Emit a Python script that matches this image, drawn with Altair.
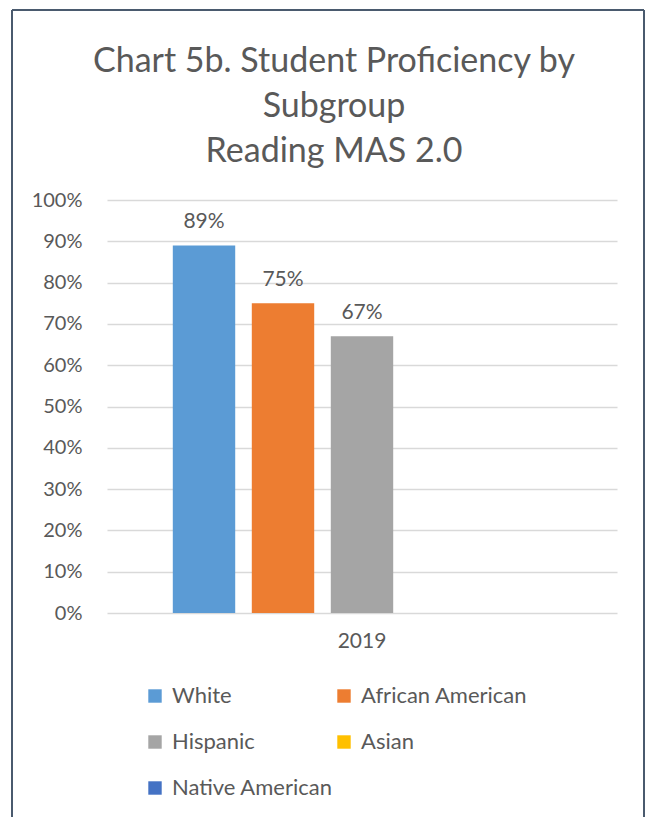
import altair as alt
import pandas as pd

years = ["2019"]
subgroups = ["White", "African American", "Hispanic", "Asian", "Native American"]
values = [0.89, 0.75, 0.67, None, None]
colors = ["#5B9BD5", "#ED7D31", "#A5A5A5", "#FFC000", "#4472C4"]
y_ticks = [0, 0.1, 0.2, 0.3, 0.4, 0.5, 0.6, 0.7, 0.8, 0.9, 1.0]
title_lines = ["Chart 5b. Student Proficiency by", "Subgroup", "Reading MAS 2.0"]

# legend fills column-wise; order it so that rows read as in the reference
legend_order = ["White", "Hispanic", "Native American", "African American", "Asian"]
legend_colors = [colors[subgroups.index(s)] for s in legend_order]

df = pd.DataFrame({
    "Year": years * len(subgroups),
    "Subgroup": subgroups,
    "Value": values,
})

FONT = "Lato"
TXT = "#595959"
W, H = 510, 413

x_enc = alt.X("Year:N", title=None,
              scale=alt.Scale(paddingInner=0, paddingOuter=0.1456),
              axis=alt.Axis(labelAngle=0, labelFontSize=21, labelColor=TXT, labelFont=FONT,
                            domain=False, ticks=False, grid=False, labelPadding=17))
xo_enc = alt.XOffset("Subgroup:N", sort=subgroups,
                     scale=alt.Scale(domain=subgroups, paddingInner=0.21, paddingOuter=0.105))
y_enc = alt.Y("Value:Q", title=None,
              scale=alt.Scale(domain=[0, 1], nice=False),
              axis=alt.Axis(values=y_ticks, format=".0%", labelFontSize=20, labelColor=TXT,
                            labelFont=FONT, domain=False, ticks=False, labelPadding=25,
                            gridColor="#D9D9D9", gridWidth=1.5))

bars = alt.Chart(df).mark_bar().encode(
    x=x_enc,
    xOffset=xo_enc,
    y=y_enc,
    color=alt.Color("Subgroup:N", sort=legend_order,
                    scale=alt.Scale(domain=legend_order, range=legend_colors),
                    legend=alt.Legend(title=None, orient="none", legendX=37, legendY=485,
                                      columns=2, columnPadding=0, rowPadding=24,
                                      symbolType="square", symbolSize=180, symbolStrokeWidth=0,
                                      labelFontSize=22, labelColor=TXT, labelFont=FONT,
                                      labelOffset=6, labelLimit=300)),
)

labels = alt.Chart(df).transform_filter("datum.Value != null").mark_text(
    baseline="alphabetic", dy=-17, fontSize=21, color=TXT, font=FONT
).encode(
    x=alt.X("Year:N"),
    xOffset=alt.XOffset("Subgroup:N", sort=subgroups),
    y=alt.Y("Value:Q"),
    text=alt.Text("Value:Q", format=".0%"),
)

title_marks = []
for i, ln in enumerate(title_lines):
    title_marks.append(
        alt.Chart(alt.Data(values=[{"t": ln}])).mark_text(
            fontSize=34, font=FONT, color=TXT, baseline="alphabetic", align="center"
        ).encode(text="t:N", x=alt.value(227), y=alt.value(-128 + 45 * i))
    )

border_data = alt.Data(values=[{"k": 1}])
BC = "#4A5A6E"
left_b = alt.Chart(border_data).mark_rule(color=BC, strokeWidth=2).encode(
    x=alt.value(-95), y=alt.value(-190), y2=alt.value(630))
top_b = alt.Chart(border_data).mark_rule(color=BC, strokeWidth=2).encode(
    x=alt.value(-95), x2=alt.value(537), y=alt.value(-190))
right_b = alt.Chart(border_data).mark_rule(color=BC, strokeWidth=2).encode(
    x=alt.value(537), y=alt.value(-190), y2=alt.value(630))

chart = alt.layer(bars, labels, *title_marks, left_b, top_b, right_b).properties(
    width=W, height=H,
    background="white",
    autosize=alt.AutoSizeParams(type="none"),
    padding={"left": 107, "top": 200, "right": 32, "bottom": 204},
).configure_view(strokeWidth=0)

chart.save("out.html", embed_options={"renderer": "svg", "actions": False})
